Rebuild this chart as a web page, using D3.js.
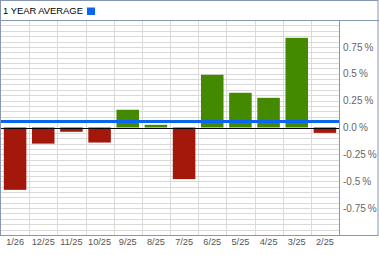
<!DOCTYPE html>
<html><head><meta charset="utf-8">
<script src="https://cdn.jsdelivr.net/npm/d3@7"></script>
<style>body{margin:0;background:#fff}svg{display:block;font-family:Arial,"Liberation Sans",sans-serif}</style>
</head><body><svg id="c" width="379" height="255"></svg>
<script>
const categories = ["1/26","12/25","11/25","10/25","9/25","8/25","7/25","6/25","5/25","4/25","3/25","2/25"];
const values = [-0.58,-0.15,-0.04,-0.14,0.165,0.025,-0.48,0.49,0.323,0.276,0.834,-0.05];
const average = 0.056;
const tickValues = [0.75,0.5,0.25,0,-0.25,-0.5,-0.75];
const tickLabels = ["0.75\u2009%","0.5\u2009%","0.25\u2009%","0.0\u2009%","-0.25\u2009%","-0.5\u2009%","-0.75\u2009%"];
const title = "1 YEAR AVERAGE";

const svg = d3.select("#c");
const L = 1, R = 339, T = 20, B = 235;
const x = d3.scaleBand().domain(categories).range([L, R]).paddingInner(0.2).paddingOuter(0.1);
const xb = d3.scaleBand().domain(categories).range([L, R]);
const y = d3.scaleLinear().domain([-1, 1]).range([B, T]);
const border = "#8597b4";

// horizontal grid
const hg = d3.range(-0.95, 1.0, 0.05);
svg.append("g").selectAll("line").data(hg).join("line")
  .attr("x1", L).attr("x2", R)
  .attr("y1", d => Math.round(y(d)) + 0.5).attr("y2", d => Math.round(y(d)) + 0.5)
  .attr("stroke", "#dadada").attr("stroke-width", 1);
// vertical grid
svg.append("g").selectAll("line").data(categories.slice(1)).join("line")
  .attr("x1", d => Math.round(xb(d)) + 0.5).attr("x2", d => Math.round(xb(d)) + 0.5)
  .attr("y1", T).attr("y2", B)
  .attr("stroke", "#dadada").attr("stroke-width", 1);

// bars
svg.append("g").selectAll("rect").data(values).join("rect")
  .attr("x", (d, i) => x(categories[i]))
  .attr("width", x.bandwidth())
  .attr("y", d => y(Math.max(0, d)))
  .attr("height", d => Math.abs(y(d) - y(0)))
  .attr("fill", d => d >= 0 ? "#448a00" : "#a4180b");

// zero line
svg.append("line").attr("x1", L).attr("x2", R)
  .attr("y1", Math.round(y(0)) + 0.5).attr("y2", Math.round(y(0)) + 0.5)
  .attr("stroke", "#000").attr("stroke-width", 1);

// average line
svg.append("line").attr("x1", L).attr("x2", R)
  .attr("y1", y(average)).attr("y2", y(average))
  .attr("stroke", "#0a66f0").attr("stroke-width", 3);

// y axis labels
const yAxis = d3.axisRight(y).tickValues(tickValues).tickSize(0).tickPadding(0)
  .tickFormat((d, i) => tickLabels[i]);
const ya = svg.append("g").attr("transform", `translate(343,0)`).call(yAxis);
ya.select(".domain").remove();
ya.selectAll("text").attr("font-size", 10).attr("fill", "#666").attr("font-family", "Arial,'Liberation Sans',sans-serif");

// x axis labels
const xAxis = d3.axisBottom(xb).tickSize(0).tickPadding(0);
const xa = svg.append("g").attr("transform", `translate(0,238.5)`).call(xAxis);
xa.select(".domain").remove();
xa.selectAll("text").attr("font-size", 9.2).attr("fill", "#555").attr("font-family", "Arial,'Liberation Sans',sans-serif");

// borders
svg.append("rect").attr("x", 0.5).attr("y", 0.5).attr("width", 377.5).attr("height", 235)
  .attr("fill", "none").attr("stroke", border);
svg.append("line").attr("x1", 0).attr("x2", 379).attr("y1", 20.5).attr("y2", 20.5).attr("stroke", border);
svg.append("line").attr("x1", 339.5).attr("x2", 339.5).attr("y1", 20).attr("y2", 235.5).attr("stroke", border);

// header
svg.append("text").attr("x", 3).attr("y", 14).attr("font-size", 9.4).attr("fill", "#000").text(title);
svg.append("rect").attr("x", 87).attr("y", 7.5).attr("width", 8).attr("height", 7.5).attr("fill", "#0a66f0");
</script></body></html>
